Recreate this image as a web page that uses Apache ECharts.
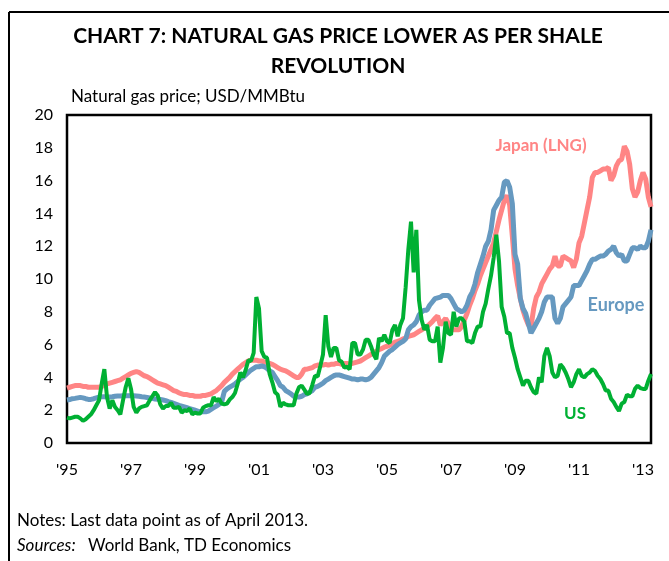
<!DOCTYPE html>
<html><head><meta charset="utf-8">
<script src="https://cdn.jsdelivr.net/npm/echarts@6/dist/echarts.min.js"></script>
<style>html,body{margin:0;padding:0;background:#fff}#c{width:669px;height:561px}</style>
</head><body><div id="c"></div>
<script>
// Monthly data, Jan 1995 .. Apr 2013 (USD/MMBtu)
const startYear = 1995;
const yearTicks = ["'95","'97","'99","'01","'03","'05","'07","'09","'11","'13"];
const japan = [
 3.35,3.4,3.45,3.5,3.5,3.5,3.45,3.45,3.4,3.4,3.4,3.4,
 3.4,3.45,3.5,3.6,3.65,3.7,3.75,3.8,3.85,3.95,4.05,4.15,
 4.25,4.3,4.35,4.3,4.2,4.1,4.05,3.95,3.85,3.75,3.65,3.6,
 3.55,3.5,3.4,3.3,3.2,3.15,3.05,3.0,2.95,2.95,2.9,2.9,
 2.85,2.85,2.85,2.9,2.9,2.95,3.0,3.1,3.2,3.35,3.5,3.7,
 3.85,4.0,4.2,4.35,4.5,4.65,4.8,4.9,5.0,5.05,5.05,5.05,
 5.0,5.0,4.95,4.9,4.85,4.8,4.7,4.6,4.5,4.45,4.4,4.3,
 4.2,4.1,4.0,4.0,4.2,4.5,4.5,4.55,4.6,4.7,4.75,4.75,
 4.75,4.8,4.75,4.8,4.8,4.85,4.85,4.8,4.85,4.85,4.8,4.85,
 4.9,4.95,5.0,5.1,5.2,5.3,5.4,5.5,5.6,5.7,5.75,5.85,
 5.9,5.95,6.05,6.15,6.2,6.25,6.35,6.4,6.5,6.55,6.6,6.7,
 6.8,6.9,7.0,7.1,7.25,7.4,7.6,7.75,7.2,7.4,7.6,7.3,
 7.0,6.9,6.9,6.9,7.1,7.5,7.9,8.4,8.8,9.3,9.7,10.2,
 10.6,11.0,11.4,11.8,12.2,12.9,13.6,14.2,14.8,15.1,14.5,12.6,
 10.6,9.6,8.8,8.1,7.6,7.2,7.1,8.2,8.9,9.2,9.7,10.0,
 10.3,10.6,10.8,11.4,10.8,10.8,11.4,11.3,11.2,11.1,10.7,11.2,
 12.2,12.6,13.4,14.2,15.0,16.2,16.5,16.5,16.6,16.7,16.7,16.8,
 16.0,16.3,16.9,17.2,17.3,18.1,17.8,17.0,15.5,15.0,15.3,16.0,
 16.5,16.1,15.0,14.4
];
const europe = [
 2.62,2.65,2.7,2.72,2.75,2.78,2.75,2.7,2.66,2.66,2.7,2.75,
 2.8,2.82,2.82,2.8,2.8,2.82,2.85,2.87,2.87,2.88,2.88,2.88,
 2.88,2.88,2.87,2.85,2.82,2.8,2.78,2.75,2.72,2.68,2.66,2.65,
 2.62,2.58,2.52,2.48,2.42,2.36,2.3,2.25,2.2,2.15,2.1,2.05,
 2.0,1.95,1.9,1.9,1.9,1.95,2.05,2.15,2.25,2.35,2.5,3.15,
 3.3,3.4,3.5,3.6,3.75,3.9,4.0,4.15,4.3,4.45,4.55,4.65,
 4.65,4.7,4.65,4.55,4.4,4.3,4.05,3.8,3.5,3.4,3.2,3.1,
 3.0,2.85,2.8,2.8,2.85,2.95,3.0,3.1,3.2,3.4,3.45,3.55,
 3.65,3.8,3.9,4.0,4.1,4.15,4.15,4.1,4.05,4.0,3.95,3.9,
 3.9,3.85,3.9,3.9,3.85,3.9,4.0,4.2,4.4,4.6,4.9,5.3,
 5.45,5.6,5.7,5.85,6.0,6.1,6.2,6.35,6.9,7.1,7.2,7.4,
 7.8,8.0,8.1,8.1,8.4,8.6,8.8,8.85,8.9,9.0,9.0,9.0,
 8.8,8.5,8.2,8.1,8.0,8.1,8.4,8.9,9.2,9.7,10.4,10.9,
 11.4,12.0,12.3,13.0,14.2,14.5,14.8,15.0,15.9,16.0,15.6,14.6,
 11.5,10.9,8.8,8.2,7.9,7.3,6.7,7.0,7.3,7.6,8.0,8.6,
 8.9,8.9,8.9,7.6,7.3,7.6,8.3,8.5,8.7,8.9,9.6,9.6,
 9.6,9.9,10.2,10.5,10.9,11.2,11.2,11.3,11.4,11.4,11.5,11.7,
 11.8,12.0,11.6,11.4,11.5,11.1,11.1,11.5,11.9,11.9,11.8,12.0,
 11.9,11.9,12.3,13.0
];
const us = [
 1.55,1.5,1.55,1.6,1.6,1.5,1.35,1.45,1.6,1.75,2.0,2.3,
 2.6,3.6,4.5,2.8,2.1,2.6,2.2,2.0,1.75,2.6,3.4,3.95,
 3.3,2.2,1.85,2.1,2.2,2.25,2.3,2.6,2.85,3.1,2.9,2.35,
 2.1,2.25,2.25,2.45,2.15,2.15,2.2,1.85,2.0,1.95,2.1,1.75,
 1.85,1.8,1.8,2.15,2.25,2.3,2.3,2.8,2.55,2.7,2.4,2.35,
 2.4,2.65,2.8,3.05,3.6,4.3,4.0,4.45,5.05,5.0,5.5,8.9,
 8.2,5.6,5.25,5.2,4.2,3.7,3.1,2.95,2.2,2.45,2.35,2.3,
 2.3,2.3,3.0,3.4,3.5,3.25,3.0,3.05,3.55,4.1,4.05,4.7,
 5.4,7.8,5.9,5.25,5.8,5.8,5.05,4.95,4.6,4.65,4.5,6.1,
 6.1,5.4,5.4,5.7,6.3,6.3,5.9,5.4,5.1,6.4,6.2,6.6,
 6.2,6.1,6.9,7.2,6.5,7.2,7.6,9.5,11.8,13.5,10.4,13.0,
 8.7,7.5,6.9,7.2,6.3,6.2,6.2,7.1,4.9,5.8,7.4,6.7,
 6.6,8.0,7.1,7.6,7.6,7.4,6.2,6.2,6.1,6.7,7.1,7.1,
 8.0,8.5,9.4,10.2,11.3,12.7,11.1,8.3,7.7,6.7,6.7,5.8,
 5.2,4.5,4.0,3.5,3.8,3.8,3.4,3.1,3.0,4.0,3.7,5.3,
 5.8,5.3,4.3,4.0,4.1,4.8,4.6,4.3,3.9,3.4,3.7,4.2,
 4.5,4.1,4.0,4.2,4.3,4.5,4.4,4.1,3.9,3.6,3.2,3.2,
 2.7,2.5,2.2,1.95,2.4,2.5,2.95,2.85,2.85,3.3,3.5,3.35,
 3.3,3.3,3.8,4.2
];
const seriesNames = ["Japan (LNG)", "Europe", "US"];

const toPts = arr => arr.map((v, i) => [i, v]);
const FONT = 'Lato';
const chart = echarts.init(document.getElementById('c'), null, {renderer: 'canvas'});
chart.setOption({
  animation: false,
  backgroundColor: '#fff',
  textStyle: {fontFamily: FONT},
  grid: {left: 67, top: 115, right: 18, bottom: 118, show: true,
         borderColor: '#000', borderWidth: 2.5, backgroundColor: 'transparent'},
  xAxis: {
    type: 'value', min: 0, max: japan.length - 1, interval: 24,
    axisLine: {show: false}, axisTick: {show: false}, splitLine: {show: false},
    axisLabel: {color: '#000', fontSize: 16, fontFamily: FONT, margin: 19,
      showMaxLabel: false,
      formatter: v => yearTicks[Math.round(v / 24)] || ''}
  },
  yAxis: {
    type: 'value', min: 0, max: 20, interval: 2,
    axisLine: {show: false}, axisTick: {show: false}, splitLine: {show: false},
    axisLabel: {color: '#000', fontSize: 16, fontFamily: FONT, margin: 14}
  },
  series: [
    {name: seriesNames[0], type: 'line', data: toPts(japan), symbol: 'none',
     lineStyle: {color: '#ff8585', width: 5}},
    {name: seriesNames[1], type: 'line', data: toPts(europe), symbol: 'none',
     lineStyle: {color: '#6699c0', width: 5}},
    {name: seriesNames[2], type: 'line', data: toPts(us), symbol: 'none',
     lineStyle: {color: '#00b033', width: 4}}
  ],
  graphic: [
    {type: 'line', shape: {x1: 9, y1: 12, x2: 669, y2: 12}, style: {stroke: '#000', lineWidth: 2}},
    {type: 'line', shape: {x1: 9, y1: 12, x2: 9, y2: 561}, style: {stroke: '#000', lineWidth: 2}},
    {type: 'text', x: 338, y: 36, style: {text: 'CHART 7: NATURAL GAS PRICE LOWER AS PER SHALE',
      font: 'bold 21px ' + FONT, fill: '#000', textAlign: 'center', textVerticalAlign: 'middle'}},
    {type: 'text', x: 338, y: 66, style: {text: 'REVOLUTION',
      font: 'bold 21px ' + FONT, fill: '#000', textAlign: 'center', textVerticalAlign: 'middle'}},
    {type: 'text', x: 71, y: 97, style: {text: 'Natural gas price; USD/MMBtu',
      font: '17px ' + FONT, fill: '#000', textAlign: 'left', textVerticalAlign: 'middle'}},
    {type: 'text', x: 541, y: 146, style: {text: seriesNames[0],
      font: 'bold 17px ' + FONT, fill: '#ff8585', textAlign: 'center', textVerticalAlign: 'middle'}},
    {type: 'text', x: 616, y: 305, style: {text: seriesNames[1],
      font: 'bold 18px ' + FONT, fill: '#6699c0', textAlign: 'center', textVerticalAlign: 'middle'}},
    {type: 'text', x: 575, y: 414, style: {text: seriesNames[2],
      font: 'bold 17px ' + FONT, fill: '#00b033', textAlign: 'center', textVerticalAlign: 'middle'}},
    {type: 'text', x: 17, y: 521, style: {text: 'Notes: Last data point as of April 2013.',
      font: '17px ' + FONT, fill: '#000', textAlign: 'left', textVerticalAlign: 'middle'}},
    {type: 'text', x: 17, y: 546, style: {text: 'Sources:',
      font: 'italic 17px ' + FONT, fill: '#000', textAlign: 'left', textVerticalAlign: 'middle'}},
    {type: 'text', x: 88, y: 546, style: {text: 'World Bank, TD Economics',
      font: '17px ' + FONT, fill: '#000', textAlign: 'left', textVerticalAlign: 'middle'}}
  ]
});
</script></body></html>
